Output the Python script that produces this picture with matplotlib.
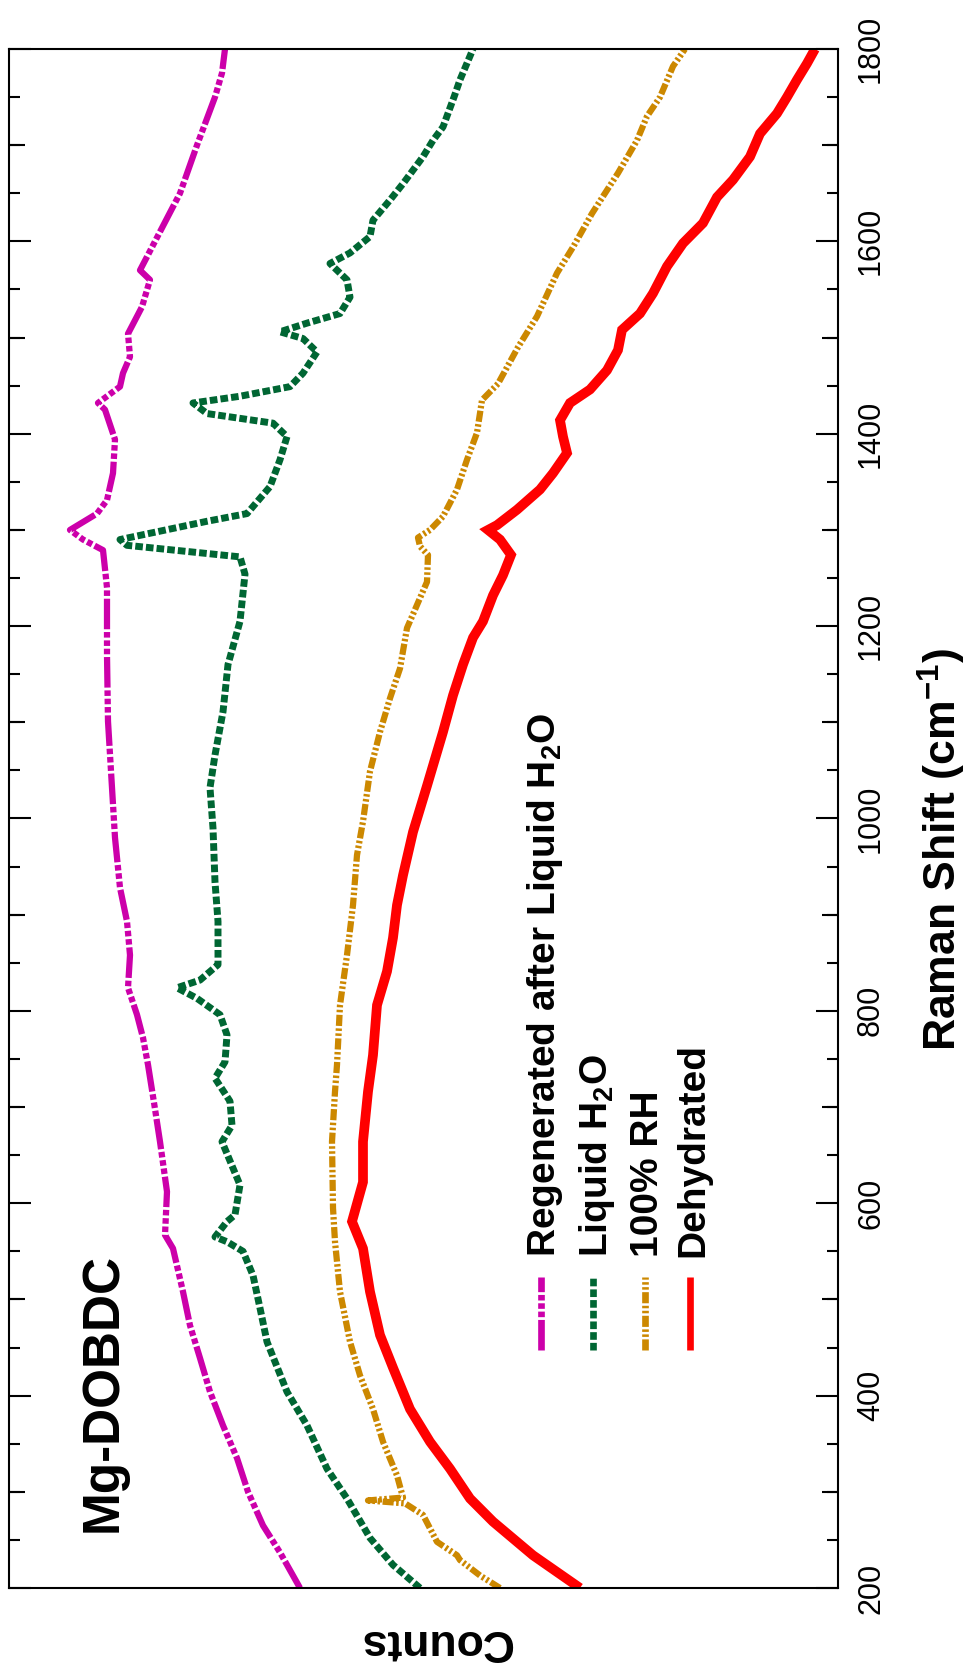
import matplotlib
matplotlib.use("Agg")
import matplotlib.pyplot as plt
from matplotlib.ticker import MultipleLocator, NullFormatter
from matplotlib.lines import Line2D

plt.rcParams["font.family"] = ["Liberation Sans", "DejaVu Sans"]
plt.rcParams["mathtext.fontset"] = "custom"
plt.rcParams["mathtext.rm"] = "Liberation Sans:bold"
plt.rcParams["mathtext.bf"] = "Liberation Sans:bold"
plt.rcParams["lines.scale_dashes"] = False

# Raman spectra of Mg-DOBDC (shift in cm-1, counts in arbitrary units)
regen_shift = [200, 237, 265, 300, 335, 369, 404, 439, 473, 508, 553, 567, 612, 664, 698,
               744, 772, 796, 824, 858, 893, 928, 980, 1032, 1101, 1170, 1240, 1279, 1290,
               1300, 1317, 1331, 1359, 1394, 1425, 1432, 1449, 1463, 1480, 1504, 1532, 1560,
               1570, 1600, 1650, 1700, 1750, 1775, 1800]
regen_counts = [5380, 5580, 5750, 5900, 6010, 6150, 6280, 6380, 6480, 6550, 6650, 6730, 6710,
                6780, 6830, 6900, 6950, 7010, 7100, 7080, 7110, 7180, 7230, 7260, 7300, 7310,
                7310, 7350, 7550, 7680, 7410, 7310, 7250, 7230, 7330, 7400, 7180, 7150, 7080,
                7100, 6960, 6880, 6980, 6830, 6580, 6410, 6230, 6160, 6130]

liquid_shift = [200, 224, 252, 293, 324, 369, 404, 456, 491, 525, 550, 560, 565, 581, 588, 619,
                664, 681, 706, 730, 747, 775, 796, 813, 824, 832, 848, 893, 934, 990, 1032,
                1066, 1111, 1160, 1205, 1254, 1272, 1284, 1290, 1309, 1317, 1345, 1373, 1397,
                1411, 1421, 1432, 1439, 1449, 1463, 1485, 1499, 1506, 1515, 1525, 1542, 1560,
                1577, 1588, 1605, 1622, 1643, 1660, 1688, 1705, 1719, 1750, 1768, 1800]
liquid_counts = [4180, 4450, 4680, 4910, 5110, 5310, 5510, 5710, 5780, 5850, 5950, 6110, 6230,
                 6110, 6030, 5980, 6160, 6060, 6080, 6230, 6130, 6110, 6180, 6410, 6610, 6380,
                 6200, 6200, 6230, 6250, 6280, 6230, 6150, 6100, 5980, 5930, 5980, 7110, 7180,
                 6310, 5910, 5680, 5580, 5510, 5650, 6310, 6450, 5980, 5480, 5350, 5210, 5350,
                 5580, 5310, 4980, 4880, 4910, 5080, 4880, 4680, 4650, 4480, 4350, 4150, 4050,
                 3950, 3840, 3780, 3650]

rh_shift = [200, 213, 229, 234, 248, 276, 288, 291, 294, 317, 352, 386, 421, 456, 508, 560,
            595, 664, 716, 744, 806, 858, 910, 962, 997, 1049, 1090, 1125, 1156, 1198, 1246,
            1274, 1283, 1292, 1300, 1314, 1342, 1373, 1401, 1435, 1452, 1490, 1522, 1567,
            1594, 1629, 1671, 1705, 1730, 1750, 1782, 1800]
rh_counts = [3380, 3580, 3780, 3810, 4010, 4150, 4330, 4700, 4350, 4410, 4550, 4650, 4780,
             4880, 4980, 5030, 5050, 5060, 5030, 5010, 4980, 4910, 4850, 4810, 4750, 4680,
             4580, 4480, 4380, 4310, 4110, 4100, 4180, 4200, 4080, 3950, 3810, 3710, 3610,
             3560, 3400, 3200, 3010, 2810, 2650, 2460, 2200, 2010, 1910, 1780, 1650, 1530]

dehyd_shift = [200, 234, 269, 293, 324, 352, 386, 429, 463, 508, 553, 581, 622, 664, 716,
               754, 806, 841, 876, 910, 941, 986, 1034, 1090, 1128, 1160, 1188, 1205, 1232,
               1253, 1274, 1290, 1300, 1305, 1321, 1342, 1359, 1380, 1397, 1414, 1432, 1446,
               1466, 1487, 1508, 1525, 1546, 1574, 1598, 1619, 1646, 1664, 1688, 1712, 1733,
               1750, 1768, 1785, 1800]
dehyd_counts = [2580, 3050, 3450, 3680, 3880, 4080, 4280, 4450, 4580, 4680, 4750, 4860, 4750,
                4750, 4700, 4650, 4610, 4510, 4450, 4410, 4350, 4250, 4110, 3950, 3850, 3750,
                3650, 3550, 3450, 3350, 3270, 3380, 3500, 3410, 3210, 2980, 2850, 2710, 2750,
                2780, 2680, 2480, 2310, 2200, 2160, 1980, 1850, 1710, 1550, 1350, 1210, 1050,
                880, 780, 610, 510, 410, 310, 230]

labels = ["Regenerated after Liquid H$_\\mathbf{2}$O", "Liquid H$_\\mathbf{2}$O",
          "100% RH", "Dehydrated"]

styles = [
    dict(color="#CC00AA", lw=4.5, dashes=[22, 2, 4, 2, 4, 2, 4, 2]),
    dict(color="#006633", lw=5.0, dashes=[5.5, 2.2]),
    dict(color="#CC8800", lw=4.5, dashes=[8, 1.8, 1.8, 1.8, 1.8, 1.8]),
    dict(color="#FF0000", lw=7.0),
]

fig = plt.figure(figsize=(9.71, 16.68), dpi=100)
ax = fig.add_axes([9 / 971, 80 / 1668, 829 / 971, 1539 / 1668])

# plot is drawn turned on its side: shift runs up the page, counts grow to the left
series = [(regen_shift, regen_counts), (liquid_shift, liquid_counts),
          (rh_shift, rh_counts), (dehyd_shift, dehyd_counts)]
for (shift, counts), st in zip(series, styles):
    ax.plot(counts, shift, solid_capstyle="butt", solid_joinstyle="miter", **st)

ax.set_xlim(8290, 0)
ax.set_ylim(200, 1800)
ax.set_xticks([])

# medium ticks at the odd hundreds
ax2 = ax.twinx()
ax2.set_ylim(200, 1800)
ax2.set_yticks(range(300, 1800, 200))
ax2.tick_params(axis="y", direction="in", left=True, right=True, labelleft=False,
                labelright=False, length=11.5, width=1.5)
for sp in ax2.spines.values():
    sp.set_visible(False)

ax.yaxis.set_major_locator(MultipleLocator(200))
ax.yaxis.set_minor_locator(MultipleLocator(50))
ax.yaxis.set_minor_formatter(NullFormatter())
ax.tick_params(axis="y", which="major", direction="in", left=True, right=True,
               labelleft=False, labelright=True, length=15.5, width=1.5,
               labelsize=22, pad=13)
ax.tick_params(axis="y", which="minor", direction="in", left=True, right=True,
               length=7.8, width=1.5)
for lbl in ax.yaxis.get_majorticklabels():
    lbl.set_rotation(90)
    lbl.set_rotation_mode("default")
    lbl.set_ha("left")
    lbl.set_va("center")

for sp in ax.spines.values():
    sp.set_linewidth(1.5)

fig.text(957 / 971, 1 - 850 / 1668, "Raman Shift (cm$^{\\mathbf{-1}}$)", rotation=90,
         rotation_mode="anchor", ha="center", va="baseline", fontsize=32, fontweight="bold")
fig.text(435 / 971, 1 - 1630 / 1668, "Counts", rotation=180, rotation_mode="anchor",
         ha="center", va="baseline", fontsize=32, fontweight="bold")
fig.text(117 / 971, 1 - 1532 / 1668, "Mg-DOBDC", rotation=90, rotation_mode="anchor",
         ha="left", va="baseline", fontsize=37, fontweight="bold")

# legend, written sideways
text_x = [555, 607, 658, 703]
handle_x = [541, 593, 645, 690]
for lab, st, tx, hx in zip(labels, styles, text_x, handle_x):
    fig.text(tx / 971, 1 - 1257 / 1668, lab, rotation=90, rotation_mode="anchor",
             ha="left", va="baseline", fontsize=28, fontweight="bold")
    hst = dict(st)
    hst["lw"] = 4.8
    fig.add_artist(Line2D([hx / 971, hx / 971], [1 - 1350 / 1668, 1 - 1277 / 1668],
                          transform=fig.transFigure, solid_capstyle="butt", **hst))

fig.savefig("out.png", dpi=100, facecolor="white")
